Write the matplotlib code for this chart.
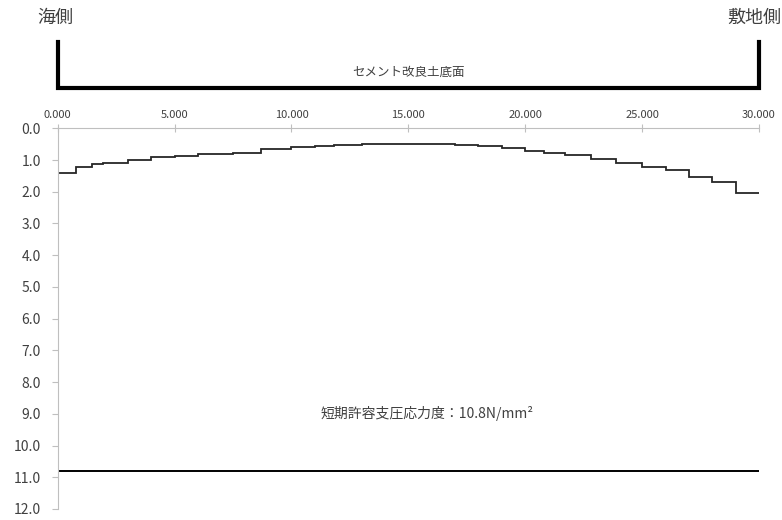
import matplotlib
matplotlib.use("Agg")
import matplotlib.pyplot as plt
import matplotlib.transforms as mtransforms

plt.rcParams['font.family'] = ['Noto Sans CJK JP', 'DejaVu Sans']

# step boundaries along the base (m) and contact pressure (N/mm2)
edges = [0, 0.77, 1.48, 1.95, 3, 4, 5, 6, 7.5, 8.7, 10, 11, 11.8, 13,
         17, 18, 19, 20, 20.8, 21.7, 22.8, 23.9, 25, 26, 27, 28, 29, 30]
pressure = [1.40, 1.21, 1.14, 1.08, 1.00, 0.92, 0.86, 0.80, 0.77, 0.64, 0.60,
            0.56, 0.53, 0.48, 0.52, 0.56, 0.63, 0.71, 0.77, 0.83, 0.96, 1.08,
            1.21, 1.32, 1.52, 1.68, 2.04]
allowable = 10.8
x_ticks = [0, 5, 10, 15, 20, 25, 30]
y_ticks = [0, 1, 2, 3, 4, 5, 6, 7, 8, 9, 10, 11, 12]

fig = plt.figure(figsize=(7.82, 5.2), dpi=100)
ax = fig.add_axes([0.0738, 0.0212, 0.8968, 0.7321])

ax.stairs(pressure, edges, baseline=None, color='#262626', lw=1.3)
ax.plot([edges[0], edges[-1]], [allowable, allowable], color='black', lw=1.4)

ax.set_xlim(0, 30)
ax.set_ylim(12, 0)
ax.xaxis.tick_top()
ax.set_xticks(x_ticks)
ax.set_xticklabels(['%.3f' % v for v in x_ticks], fontsize=8, color='#404040')
ax.set_yticks(y_ticks)
ax.set_yticklabels(['%.1f' % v for v in y_ticks], fontsize=10, color='#404040')
ax.tick_params(axis='x', direction='inout', length=6, color='#bfbfbf', pad=3)
ax.tick_params(axis='y', direction='out', length=4, color='#bfbfbf', pad=8)
for s in ['right', 'bottom']:
    ax.spines[s].set_visible(False)
for s in ['left', 'top']:
    ax.spines[s].set_color('#bfbfbf')
    ax.spines[s].set_linewidth(0.8)

ax.text(15.8, 9.0, '短期許容支圧応力度：10.8N/mm²', fontsize=10, color='#404040',
        ha='center', va='center')

# bracket above the axis
trans = mtransforms.blended_transform_factory(ax.transData, ax.transAxes)
ax.plot([0, 0, 30, 30], [1.2267, 1.106, 1.106, 1.2267], transform=trans,
        color='black', lw=3, clip_on=False, solid_joinstyle='miter')
ax.text(15, 1.147, 'セメント改良土底面', transform=trans, fontsize=9,
        color='#404040', ha='center', va='center')

fig.text(0.048, 0.966, '海側', fontsize=13, color='#404040', ha='left', va='center')
fig.text(0.999, 0.966, '敷地側', fontsize=13, color='#404040', ha='right', va='center')

fig.savefig('out.png', dpi=100)
